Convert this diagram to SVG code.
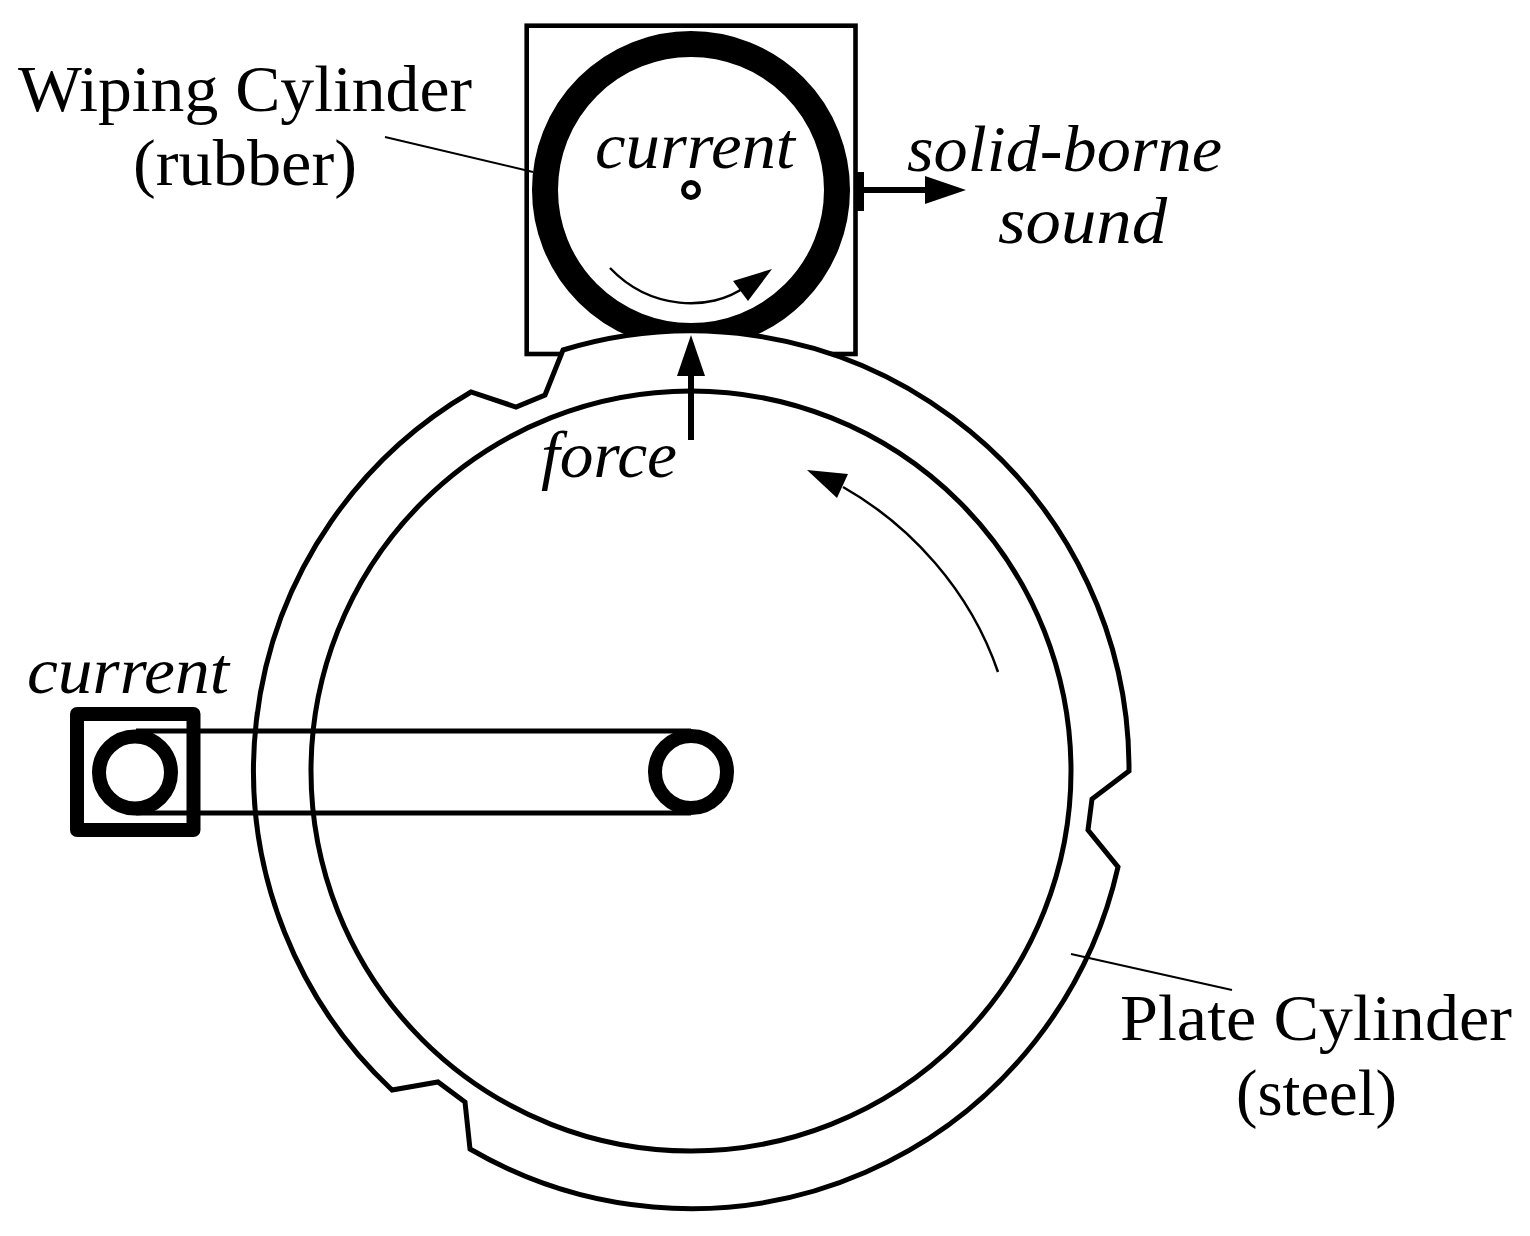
<svg xmlns="http://www.w3.org/2000/svg" width="1530" height="1236" viewBox="0 0 1530 1236">
<style>
.t{font-family:"Liberation Serif",serif;font-size:65px;fill:#000}
.i{font-style:italic}
.o{fill:none;stroke:#000}
.h{fill:#000;stroke:none}
</style>
<rect width="1530" height="1236" fill="#fff"/>
<g id="wiping-cylinder">
<rect class="o" x="526.7" y="25.7" width="328.8" height="328.3" stroke-width="4.6"/>
<circle class="o" cx="691" cy="190" r="146" stroke-width="26"/>
<circle class="o" cx="691" cy="190" r="7.5" stroke-width="5"/>
<rect class="h" x="857" y="172" width="7" height="39"/>
</g>
<g id="plate-cylinder">
<path d="M563 350A438 438 0 0 1 1129 771L1092 799L1088 830L1118 867A438 438 0 0 1 470 1149L465 1102L438 1082L392 1090A438 438 0 0 1 471 392L516 407L545 395Z" fill="#fff" stroke="#000" stroke-width="5" stroke-linejoin="miter"/>
<circle class="o" cx="691" cy="771" r="380" stroke-width="5"/>
</g>
<g id="belt">
<path class="o" d="M136 731H691M136 813H691" stroke-width="5"/>
</g>
<g id="pulley-right"><circle cx="691" cy="772" r="36" fill="#fff" stroke="#000" stroke-width="14"/></g>
<g id="pulley-left"><circle class="o" cx="135" cy="772.5" r="36" stroke-width="14"/></g>
<g id="brush"><rect class="o" x="77" y="714" width="116.5" height="116" stroke-width="14" stroke-linejoin="round"/></g>
<g id="connectors">
<path class="o" d="M610 268C650 310 710 312 745 287" stroke-width="2.5"/>
<path class="h" d="M772 269L733 281L748 301Z"/>
<path class="o" d="M691 440V372" stroke-width="6"/>
<path class="h" d="M691 335L677 376H705Z"/>
<path class="o" d="M864 190H926" stroke-width="6"/>
<path class="h" d="M966 190L925 176V204Z"/>
<path class="o" d="M998 672C970 590 910 525 843 487" stroke-width="2.5"/>
<path class="h" d="M807 470L848 474L837 498Z"/>
<path class="o" d="M385 137L533 172M1071 954L1232 990" stroke-width="2"/>
</g>
<g id="labels">
<text class="t" x="18" y="111" textLength="454" lengthAdjust="spacingAndGlyphs">Wiping Cylinder</text>
<text class="t" x="133" y="185" textLength="224" lengthAdjust="spacingAndGlyphs">(rubber)</text>
<text class="t i" x="595" y="168" textLength="200" lengthAdjust="spacingAndGlyphs">current</text>
<text class="t i" x="907" y="171" textLength="315" lengthAdjust="spacingAndGlyphs">solid-borne</text>
<text class="t i" x="998" y="243" textLength="169" lengthAdjust="spacingAndGlyphs">sound</text>
<text class="t i" x="541" y="477" textLength="136" lengthAdjust="spacingAndGlyphs">force</text>
<text class="t i" x="27" y="693" textLength="202" lengthAdjust="spacingAndGlyphs">current</text>
<text class="t" x="1120" y="1040" textLength="392" lengthAdjust="spacingAndGlyphs">Plate Cylinder</text>
<text class="t" x="1236" y="1115" textLength="161" lengthAdjust="spacingAndGlyphs">(steel)</text>
</g>
</svg>
